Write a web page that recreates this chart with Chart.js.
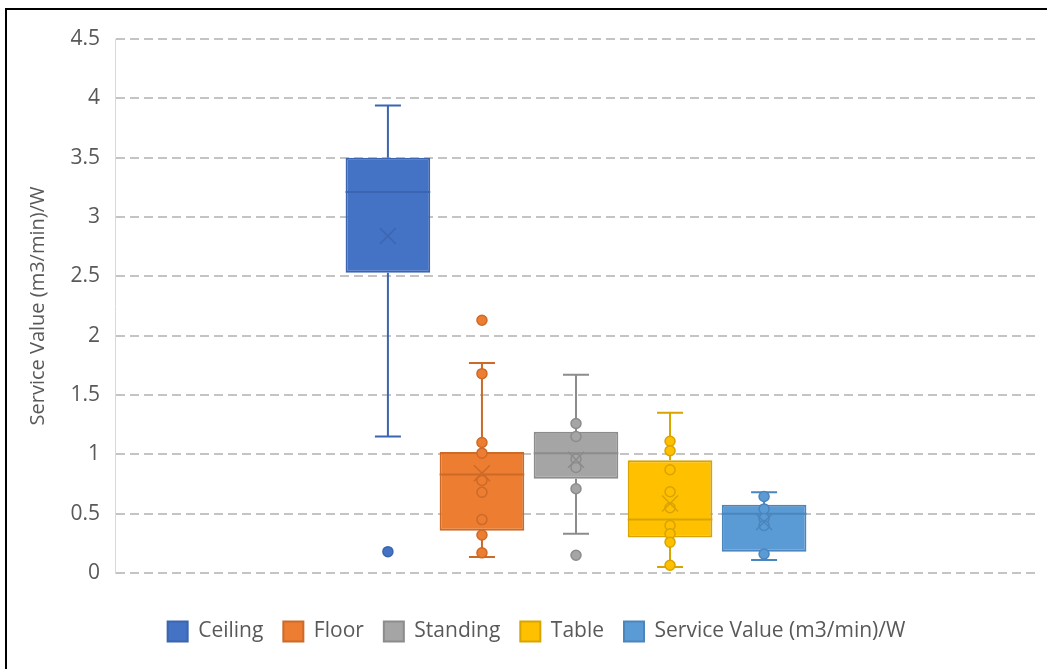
<!DOCTYPE html>
<html>
<head>
<meta charset="utf-8">
<script src="https://cdn.jsdelivr.net/npm/chart.js@4/dist/chart.umd.min.js"></script>
<style>
  html, body { margin: 0; padding: 0; background: #fff; }
  .wrap { position: relative; width: 1047px; height: 669px; overflow: hidden; }
  .frame {
    position: absolute; left: 5px; top: 8px; width: 1100px; height: 700px;
    border-left: 2px solid #000; border-top: 2px solid #000; pointer-events: none;
  }
</style>
</head>
<body>
<div class="wrap">
  <canvas id="boxChart"></canvas>
  <div class="frame"></div>
</div>
<script>
const seriesNames = ["Ceiling", "Floor", "Standing", "Table", "Service Value (m3/min)/W"];
const fillColors = ["#4472C4", "#ED7D31", "#A5A5A5", "#FFC000", "#5B9BD5"];
const lineColors = ["#3B65B0", "#CC6A28", "#8C8C8C", "#D9A300", "#4A85BD"];

const whiskerLow = [1.15, 0.135, 0.33, 0.05, 0.11];
const quartile1 = [2.53, 0.355, 0.795, 0.30, 0.18];
const medians = [3.21, 0.83, 1.01, 0.45, 0.50];
const quartile3 = [3.5, 1.02, 1.19, 0.95, 0.575];
const whiskerHigh = [3.94, 1.77, 1.67, 1.35, 0.68];
const means = [2.84, 0.84, 0.955, 0.585, 0.43];

const ceilingPoints = [0.18];
const floorPoints = [2.13, 1.68, 1.10, 1.01, 0.78, 0.68, 0.45, 0.32, 0.17];
const standingPoints = [1.26, 1.15, 0.96, 0.89, 0.71, 0.15];
const tablePoints = [1.11, 1.03, 0.87, 0.685, 0.55, 0.40, 0.33, 0.26, 0.065];
const servicePoints = [0.645, 0.54, 0.46, 0.40, 0.16];
const allPoints = [ceilingPoints, floorPoints, standingPoints, tablePoints, servicePoints];

const yTicks = [0, 0.5, 1, 1.5, 2, 2.5, 3, 3.5, 4, 4.5];

const fontFamily = "'Open Sans', sans-serif";
const textColor = "#595959";

// whiskers, median, mean marker and the individual points
const boxExtras = {
  id: "boxExtras",
  afterDatasetsDraw(chart) {
    const ctx = chart.ctx;
    const y = chart.scales.y;
    chart.data.datasets.forEach((ds, i) => {
      const bar = chart.getDatasetMeta(i).data[0];
      if (!bar) return;
      const cx = bar.x;
      const half = bar.width / 2;
      const cap = 13;
      ctx.save();
      ctx.strokeStyle = lineColors[i];
      ctx.lineWidth = 2;

      ctx.beginPath();
      ctx.moveTo(cx, y.getPixelForValue(quartile3[i]));
      ctx.lineTo(cx, y.getPixelForValue(whiskerHigh[i]));
      ctx.moveTo(cx - cap, y.getPixelForValue(whiskerHigh[i]));
      ctx.lineTo(cx + cap, y.getPixelForValue(whiskerHigh[i]));
      ctx.moveTo(cx, y.getPixelForValue(quartile1[i]));
      ctx.lineTo(cx, y.getPixelForValue(whiskerLow[i]));
      ctx.moveTo(cx - cap, y.getPixelForValue(whiskerLow[i]));
      ctx.lineTo(cx + cap, y.getPixelForValue(whiskerLow[i]));
      ctx.stroke();

      const my = y.getPixelForValue(medians[i]);
      ctx.beginPath();
      ctx.moveTo(cx - half, my);
      ctx.lineTo(cx + half, my);
      ctx.stroke();

      ctx.lineWidth = 1.5;
      allPoints[i].forEach((v) => {
        ctx.beginPath();
        ctx.arc(cx, y.getPixelForValue(v), 5, 0, Math.PI * 2);
        ctx.fillStyle = fillColors[i];
        ctx.fill();
        ctx.stroke();
      });

      const ay = y.getPixelForValue(means[i]);
      const s = 8;
      ctx.beginPath();
      ctx.moveTo(cx - s, ay - s);
      ctx.lineTo(cx + s, ay + s);
      ctx.moveTo(cx + s, ay - s);
      ctx.lineTo(cx - s, ay + s);
      ctx.stroke();
      ctx.restore();
    });
  },
};

function buildBoxChart(canvas) {
  return new Chart(canvas, {
    type: "bar",
    data: {
      labels: [""],
      datasets: seriesNames.map((name, i) => ({
        label: name,
        data: [[quartile1[i], quartile3[i]]],
        backgroundColor: fillColors[i],
        borderColor: lineColors[i],
        borderWidth: 2,
        borderSkipped: false,
        categoryPercentage: 0.51,
        barPercentage: 0.9,
      })),
    },
    options: {
      responsive: true,
      maintainAspectRatio: false,
      animation: false,
      layout: {
        padding: { left: 36, right: 10, top: 39, bottom: 17 },
      },
      plugins: {
        tooltip: { enabled: false },
        legend: {
          position: "bottom",
          labels: {
            color: textColor,
            boxWidth: 20,
            boxHeight: 20,
            padding: 20,
            font: { family: fontFamily, size: 21 },
          },
        },
      },
      scales: {
        x: {
          grid: { display: false },
          border: { display: false },
          ticks: { display: false },
          afterFit(scale) {
            scale.height = 28;
          },
        },
        y: {
          min: 0,
          max: 4.5,
          afterBuildTicks(scale) {
            scale.ticks = yTicks.map((v) => ({ value: v }));
          },
          afterFit(scale) {
            scale.width = 79;
          },
          grid: {
            color: "#C4C4C4",
            lineWidth: 2,
            drawTicks: false,
          },
          border: {
            display: true,
            color: "#D9D9D9",
            width: 1,
            dash: [9, 5],
          },
          ticks: {
            color: textColor,
            padding: 15,
            font: { family: fontFamily, size: 21 },
            callback(value) {
              return String(value);
            },
          },
          title: {
            display: true,
            text: "Service Value (m3/min)/W",
            color: textColor,
            padding: { top: -10, bottom: 0 },
            font: { family: fontFamily, size: 20 },
          },
        },
      },
    },
    plugins: [boxExtras],
  });
}

function initBoxChart() {
  if (typeof Chart === "undefined") return;
  const canvas = document.getElementById("boxChart");
  if (canvas) buildBoxChart(canvas);
}

initBoxChart();
</script>
</body>
</html>
